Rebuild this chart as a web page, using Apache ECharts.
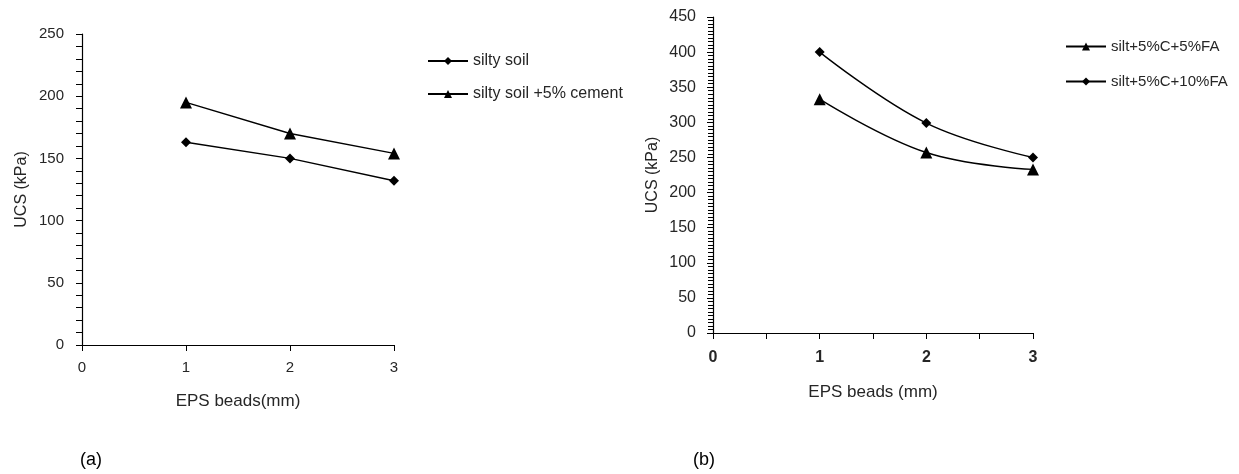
<!DOCTYPE html>
<html>
<head>
<meta charset="utf-8">
<script src="https://cdn.jsdelivr.net/npm/echarts@6/dist/echarts.min.js"></script>
<style>
html,body{margin:0;padding:0;background:#fff;}
#chart{width:1239px;height:474px;}
</style>
</head>
<body>
<div id="chart"></div>
<script>
// Data (a)
const xA = [1, 2, 3];
const siltySoil = [163, 150, 132];
const siltySoilCement = [195, 170, 154];
const namesA = ['silty soil', 'silty soil +5% cement'];
// Data (b)
const xB = [1, 2, 3];
const silt5FA = [333, 257, 233];
const silt10FA = [400, 299, 250];
const namesB = ['silt+5%C+5%FA', 'silt+5%C+10%FA'];
const panelLabels = ['(a)', '(b)'];

const toPairs = (xs, ys) => xs.map((x, i) => [x, ys[i]]);
const FONT = 'Liberation Sans, Arial, sans-serif';
const TXT = '#262626';

const chart = echarts.init(document.getElementById('chart'), null, {renderer: 'canvas'});

const yAxisCommon = {
  type: 'value',
  axisLine: {show: true, lineStyle: {color: '#000', width: 1.2}},
  axisTick: {show: true, inside: false, length: 6, lineStyle: {color: '#000'}},
  splitLine: {show: false},
  nameLocation: 'middle',
  nameRotate: 90,
};

const lineCommon = {
  type: 'line',
  lineStyle: {color: '#000', width: 1.4},
  itemStyle: {color: '#000'},
  symbolSize: 10,
};

chart.setOption({
  animation: false,
  backgroundColor: '#fff',
  textStyle: {fontFamily: FONT, color: TXT},
  grid: [
    {left: 82, top: 34, width: 312, height: 311},
    {left: 713, top: 17, width: 320, height: 316}
  ],
  title: [
    {text: panelLabels[0], left: 75, top: 446, textStyle: {fontSize: 18, fontWeight: 'normal', color: '#000', fontFamily: FONT}},
    {text: panelLabels[1], left: 688, top: 446, textStyle: {fontSize: 18, fontWeight: 'normal', color: '#000', fontFamily: FONT}}
  ],
  legend: [
    {
      data: namesA, orient: 'vertical', left: 422, top: 48, itemGap: 17,
      itemWidth: 40, itemHeight: 10,
      textStyle: {fontSize: 16, color: TXT, fontFamily: FONT}
    },
    {
      data: namesB, orient: 'vertical', left: 1060, top: 34, itemGap: 20,
      itemWidth: 40, itemHeight: 10,
      textStyle: {fontSize: 15, color: TXT, fontFamily: FONT}
    }
  ],
  xAxis: [
    {
      gridIndex: 0, type: 'value', min: 0, max: 3, interval: 1,
      name: 'EPS beads(mm)', nameLocation: 'middle', nameGap: 48,
      nameTextStyle: {fontSize: 17, color: TXT},
      axisLine: {show: true, onZero: false, lineStyle: {color: '#000', width: 1.2}},
      axisTick: {show: true, length: 6, lineStyle: {color: '#000'}},
      axisLabel: {fontSize: 15, color: TXT, margin: 15},
      splitLine: {show: false}
    },
    {
      gridIndex: 1, type: 'value', min: 0, max: 3, interval: 0.5,
      name: 'EPS beads (mm)', nameLocation: 'middle', nameGap: 51,
      nameTextStyle: {fontSize: 17, color: TXT},
      axisLine: {show: true, onZero: false, lineStyle: {color: '#000', width: 1.2}},
      axisTick: {show: true, length: 6, lineStyle: {color: '#000'}},
      axisLabel: {fontSize: 16, fontWeight: 'bold', color: TXT, margin: 17,
        formatter: v => (Number.isInteger(v) ? String(v) : '')},
      splitLine: {show: false}
    }
  ],
  yAxis: [
    Object.assign({}, yAxisCommon, {
      gridIndex: 0, min: 0, max: 250, interval: 50,
      name: 'UCS (kPa)', nameGap: 52,
      nameTextStyle: {fontSize: 16, color: TXT},
      minorTick: {show: true, splitNumber: 5, length: 6, lineStyle: {color: '#000'}},
      axisLabel: {fontSize: 15, color: TXT, margin: 18}
    }),
    Object.assign({}, yAxisCommon, {
      gridIndex: 1, min: 0, max: 450, interval: 50,
      name: 'UCS (kPa)', nameGap: 52,
      nameTextStyle: {fontSize: 16, color: TXT},
      minorTick: {show: true, splitNumber: 10, length: 5, lineStyle: {color: '#000'}},
      axisLabel: {fontSize: 16, color: TXT, margin: 17}
    })
  ],
  series: [
    Object.assign({}, lineCommon, {name: namesA[0], xAxisIndex: 0, yAxisIndex: 0, symbol: 'diamond', data: toPairs(xA, siltySoil)}),
    Object.assign({}, lineCommon, {name: namesA[1], xAxisIndex: 0, yAxisIndex: 0, symbol: 'triangle', symbolSize: 12, data: toPairs(xA, siltySoilCement)}),
    Object.assign({}, lineCommon, {name: namesB[0], xAxisIndex: 1, yAxisIndex: 1, symbol: 'triangle', symbolSize: 12, smooth: 0.4, data: toPairs(xB, silt5FA)}),
    Object.assign({}, lineCommon, {name: namesB[1], xAxisIndex: 1, yAxisIndex: 1, symbol: 'diamond', smooth: 0.4, data: toPairs(xB, silt10FA)})
  ]
});
</script>
</body>
</html>
